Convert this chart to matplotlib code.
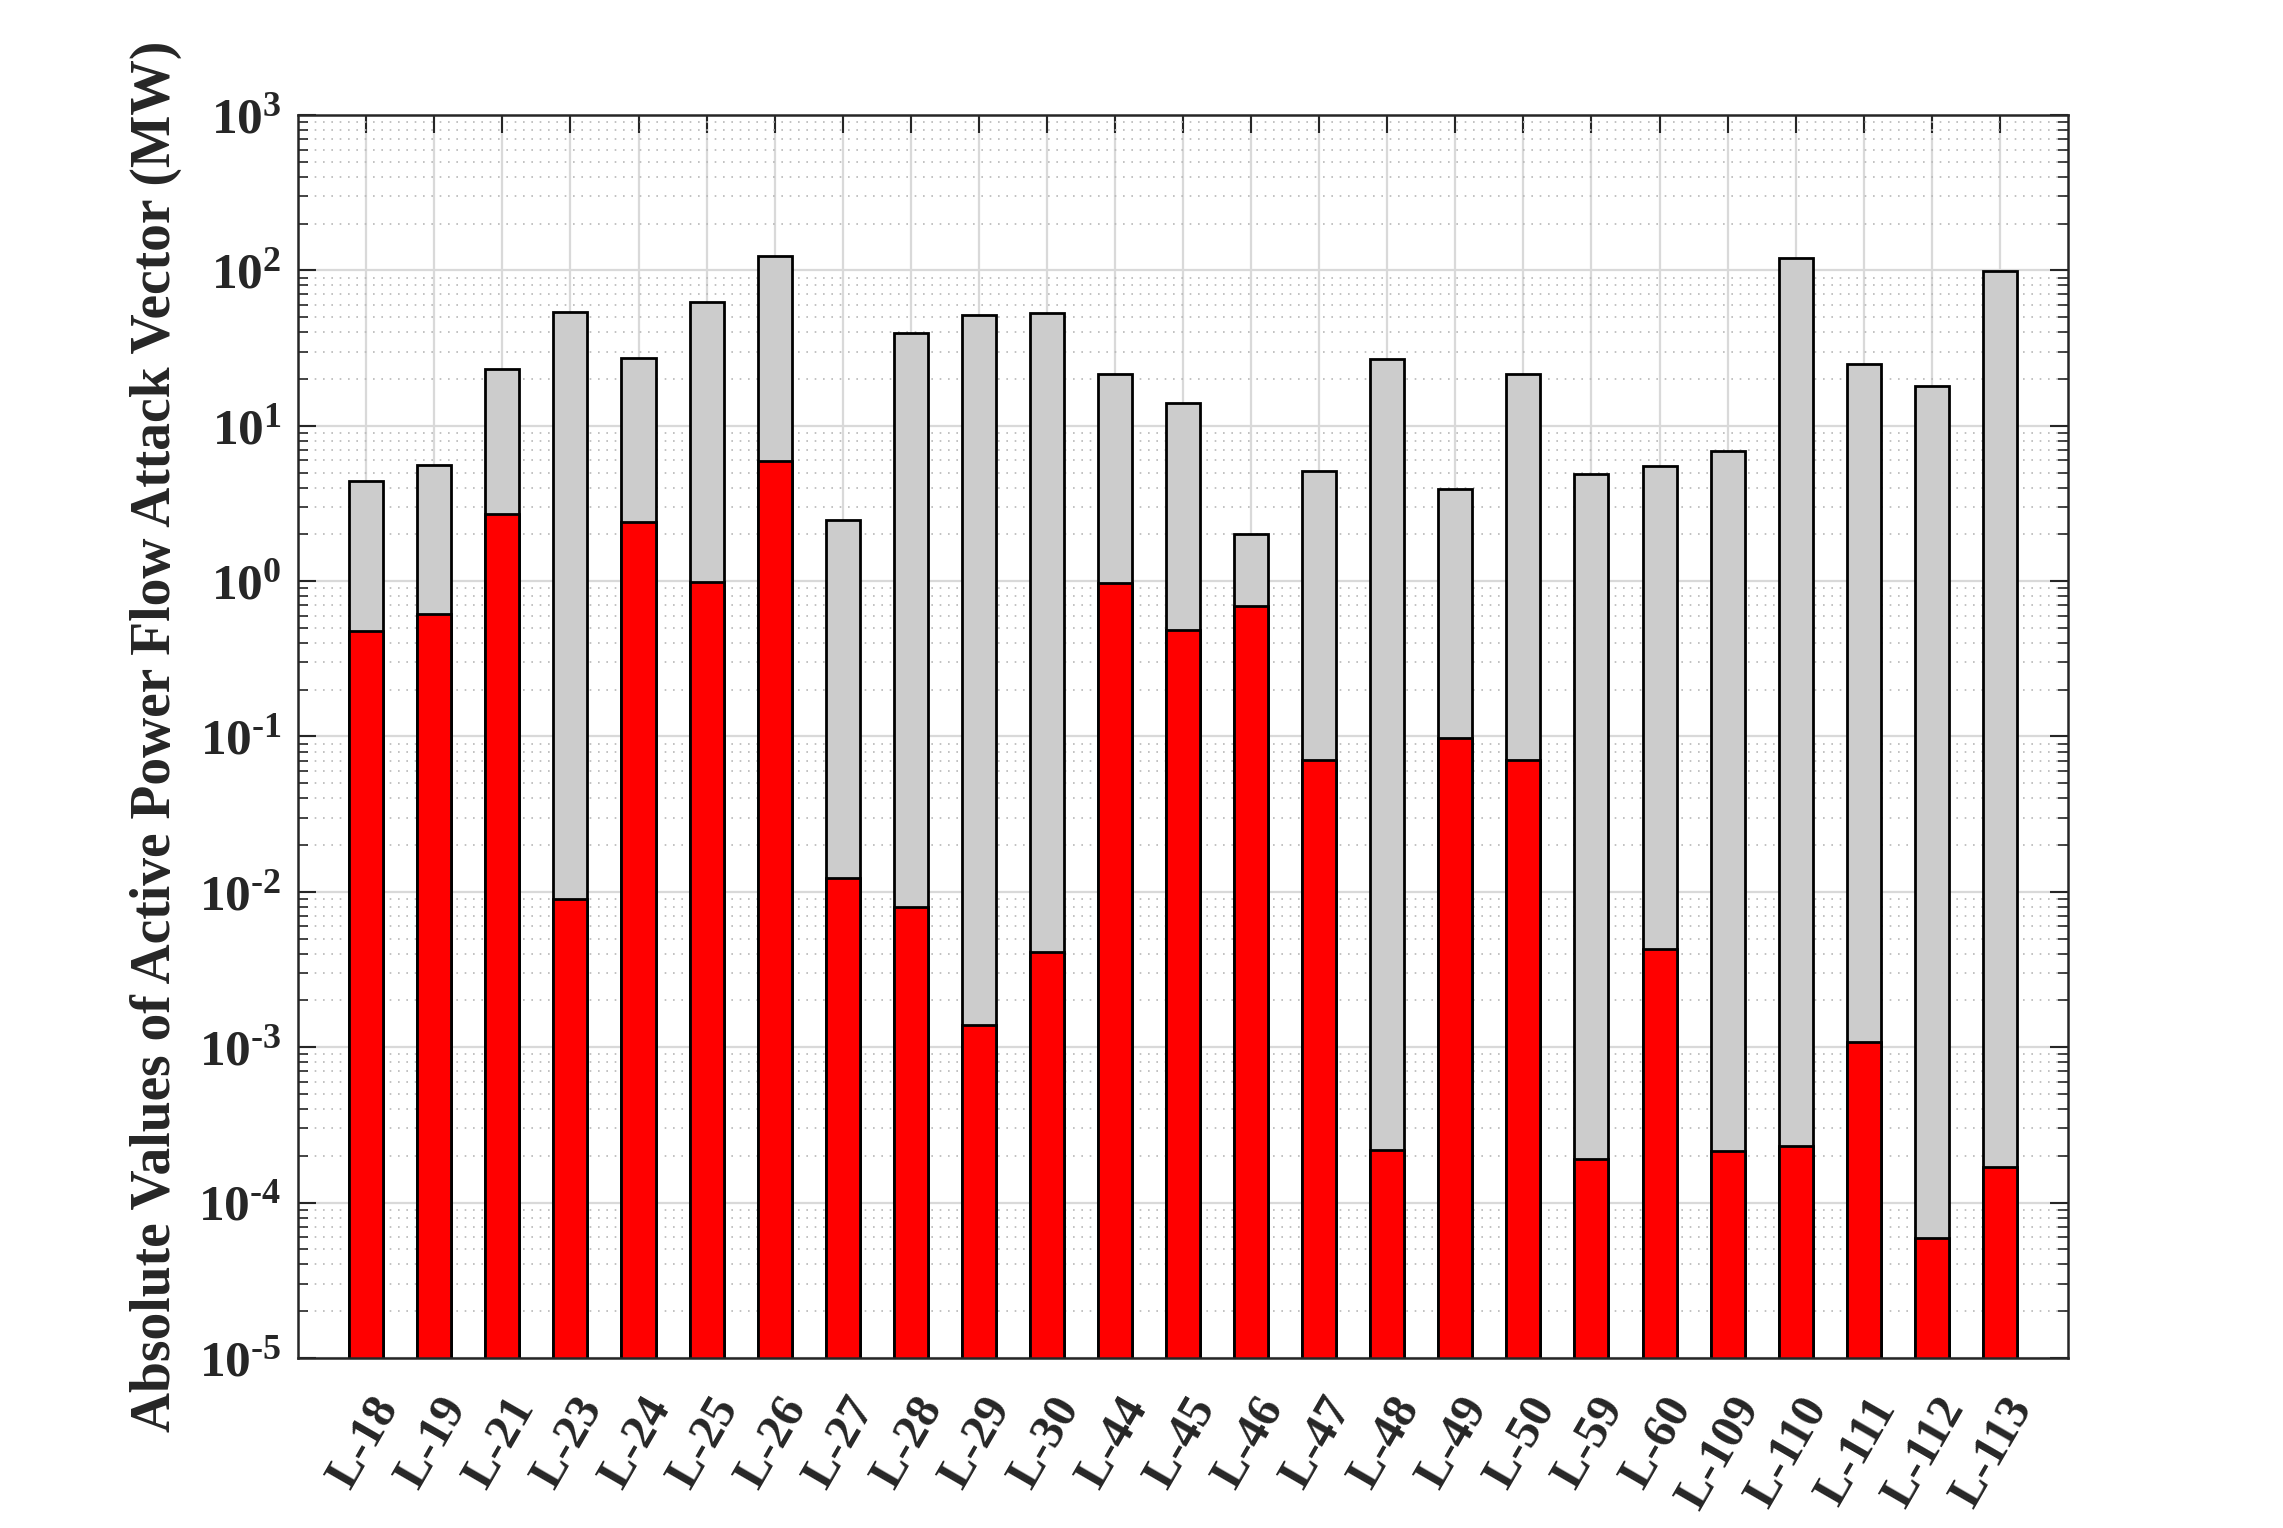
import numpy as np
import matplotlib
matplotlib.use("Agg")
import matplotlib.pyplot as plt
from matplotlib.ticker import LogLocator, NullFormatter
import matplotlib.transforms as mtransforms

plt.rcParams["font.family"] = ["Liberation Serif", "DejaVu Serif"]
plt.rcParams["font.weight"] = "bold"
plt.rcParams["mathtext.fontset"] = "custom"
plt.rcParams["mathtext.rm"] = "Liberation Serif:bold"
plt.rcParams["mathtext.it"] = "Liberation Serif:bold"
plt.rcParams["mathtext.bf"] = "Liberation Serif:bold"

# lines (x tick labels)
lines = ["L-18", "L-19", "L-21", "L-23", "L-24", "L-25", "L-26", "L-27", "L-28",
         "L-29", "L-30", "L-44", "L-45", "L-46", "L-47", "L-48", "L-49", "L-50",
         "L-59", "L-60", "L-109", "L-110", "L-111", "L-112", "L-113"]

# grey bars (upper values, MW)
grey_vals = [4.4, 5.6, 23.2, 53.6, 27.3, 62.8, 124, 2.46, 39.7, 51.3, 53.4,
             21.7, 14.1, 2.02, 5.14, 26.9, 3.94, 21.5, 4.86, 5.53, 6.86,
             120, 24.8, 18.0, 99.5]

# red bars (lower values, MW)
red_vals = [0.48, 0.61, 2.69, 0.0090, 2.40, 0.98, 5.96, 0.0123, 0.0080,
            0.00139, 0.0041, 0.975, 0.486, 0.69, 0.071, 2.18e-4, 0.098,
            0.0706, 1.9e-4, 0.00426, 2.16e-4, 2.31e-4, 1.08e-3, 5.9e-5, 1.7e-4]

exps = list(range(-5, 4))

fig = plt.figure(figsize=(22.83, 15.28), dpi=100)
ax = fig.add_axes([0.1306, 0.1113, 0.7752, 0.8134])

x = np.arange(1, len(lines) + 1)
ax.bar(x, np.array(grey_vals) - 1e-7, bottom=1e-7, width=0.5, color="#cccccc",
       edgecolor="black", linewidth=2.0, zorder=3)
ax.bar(x, np.array(red_vals) - 1e-7, bottom=1e-7, width=0.5, color="#ff0000",
       edgecolor="black", linewidth=2.0, zorder=4)

ax.set_yscale("log")
ax.set_ylim(10.0 ** exps[0], 10.0 ** exps[-1])
ax.set_xlim(0, len(lines) + 1)

ax.yaxis.set_minor_locator(LogLocator(base=10, subs=np.arange(2, 10), numticks=100))
ax.yaxis.set_minor_formatter(NullFormatter())
ax.set_yticks([10.0 ** k for k in exps])
ax.set_yticklabels([r"$\mathbf{10^{%s}}$" % str(k).replace("-", "\u2010") for k in exps])

# x tick labels drawn as texts so they can sit right of the tick, like the original
ax.set_xticks(x)
ax.set_xticklabels([])
trans = ax.get_xaxis_transform() + mtransforms.ScaledTranslation(0.22, -0.43, fig.dpi_scale_trans)
for xi, name in zip(x, lines):
    ax.text(xi, 0, name, transform=trans, rotation=60, ha="right", va="center",
            rotation_mode="anchor", fontsize=35, fontweight="bold",
            color="#262626", clip_on=False)

ax.tick_params(axis="both", which="major", direction="in", length=13, width=1.5,
               top=True, right=True, labelsize=37, pad=12, color="#262626",
               labelcolor="#262626")
ax.tick_params(axis="y", which="minor", direction="in", length=7, width=1.2,
               right=True, color="#262626")

ax.grid(True, which="major", color="#d9d9d9", linewidth=1.6, linestyle="-", zorder=0)
ax.grid(True, which="minor", axis="y", color="#b8b8b8", linewidth=1.2,
        linestyle=(0, (1, 4)), zorder=0)
ax.set_axisbelow(True)

for sp in ax.spines.values():
    sp.set_linewidth(1.8)
    sp.set_color("#262626")
    sp.set_zorder(6)

ax.set_ylabel("Absolute Values of Active Power Flow Attack Vector (MW)",
              fontsize=40, fontweight="bold", labelpad=12, color="#262626")

fig.savefig("out.png", dpi=100)
